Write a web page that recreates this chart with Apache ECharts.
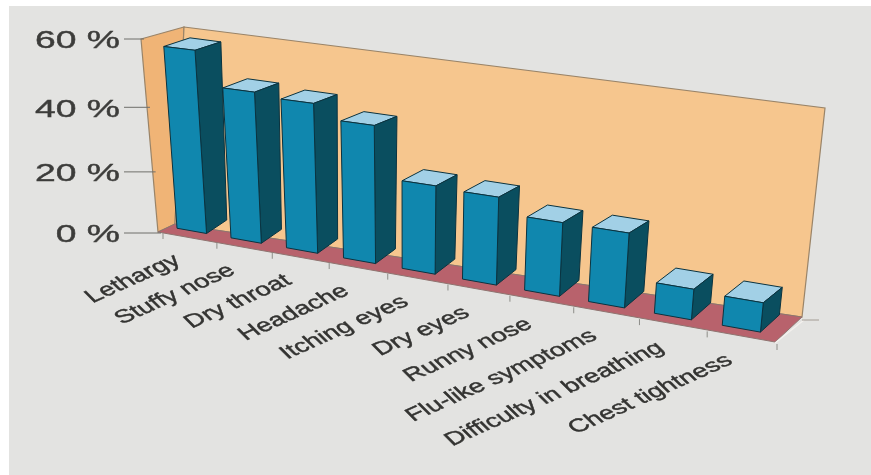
<!DOCTYPE html>
<html>
<head>
<meta charset="utf-8">
<style>html,body{margin:0;padding:0;background:#fff}#chart{width:871px;height:475px}</style>
<script src="https://cdn.jsdelivr.net/npm/echarts@6/dist/echarts.min.js"></script>
</head>
<body>
<div id="chart"></div>
<script>
const symptoms = ['Lethargy','Stuffy nose','Dry throat','Headache','Itching eyes','Dry eyes','Runny nose','Flu-like symptoms','Difficulty in breathing','Chest tightness'];
const percentages = [57, 47, 46, 42, 27, 26.5, 22, 22, 9, 8.5];
const percentTicks = [0, 20, 40, 60];

// Box of the 3D scene on screen: floor plane and the plane at the top of the value axis.
const FLOOR = {fl:[163,233], fr:[777,344], bl:[192,214], br:[804,319]};
const CEIL  = {fl:[146,39],  fr:[800,114], bl:[184,27],  br:[827,110]};
const BAR_DEPTH = [0.3, 1.0];
const BAR_SPAN = [-0.4, 0.15];   // bar extent around the band centre, in band widths
const FORESHORTEN_X = 0.866, FORESHORTEN_Y = 0.92;
const GRID = {left:163, top:39, width:612, height:195};

const lerp = (a,b,t) => [a[0]+(b[0]-a[0])*t, a[1]+(b[1]-a[1])*t];
const warp = (t,k) => k*t/(1+(k-1)*t);
function project(u,d,h){
  const uu = warp(u,FORESHORTEN_X), hh = warp(h,FORESHORTEN_Y);
  const plane = q => lerp(lerp(q.fl,q.fr,uu), lerp(q.bl,q.br,uu), d);
  return lerp(plane(FLOOR), plane(CEIL), hh);
}
// Pixel position on the cartesian grid -> normalised scene coordinates.
const toU = (x,cs) => (x-cs.x)/cs.width;
const toH = (y,cs) => (cs.y+cs.height-y)/cs.height;

const poly = (points,fill,stroke,lw) => ({type:'polygon',shape:{points},style:{fill,stroke:stroke||null,lineWidth:lw||0}});
const seg = (a,b,stroke,lw) => ({type:'line',shape:{x1:a[0],y1:a[1],x2:b[0],y2:b[1]},style:{stroke,lineWidth:lw||1}});

function renderFrame(params,api){
  const cs = params.coordSys, kids = [];
  // paper sheet
  kids.push({type:'rect',shape:{x:9,y:6,width:862,height:469},style:{fill:'#e3e3e1'}});
  // side wall, back wall, floor
  kids.push(poly([[141,39],[184,27],[175,224],[158,232]],'#f0b476','#9a8468',1.2));
  kids.push(poly([[184,27],[825,108],[802,317],[175,224]],'#f6c68e','#9a8468',1.2));
  kids.push(poly([[158,232],[175,224],[802,317],[775,342]],'#b8626c','#8f7470',1));
  kids.push(seg([775,343],[804,320],'#f4f1ee',1.2));
  kids.push(seg([802,320],[819,320],'#a39c94',1));
  // value axis ticks and labels
  percentTicks.forEach(v=>{
    const y = api.coord([0,v])[1];
    const h = toH(y,cs), wall = project(0,0,h);
    const edge = [wall[0]-2, wall[1]];
    kids.push(seg([124,edge[1]],edge,'#6f6f6b',1));
    kids.push({type:'group',x:120,y:edge[1]+3,scaleX:1.62,children:[
      {type:'text',style:{text:v+' %',align:'right',verticalAlign:'middle',fill:'#3c3c3a',stroke:'#3c3c3a',lineWidth:0.4,font:'23px "Liberation Sans"'}}
    ]});
  });
  return {type:'group',children:kids};
}

function renderBar(params,api){
  const cs = params.coordSys;
  const i = api.value(0), v = api.value(1);
  const c = api.coord([i,v]), base = api.coord([i,0]);
  const band = api.size([1,0])[0];
  const u0 = toU(c[0]+band*BAR_SPAN[0],cs), u1 = toU(c[0]+band*BAR_SPAN[1],cs);
  const h = toH(c[1],cs), h0 = toH(base[1],cs);
  const [df,db] = BAR_DEPTH;
  const fbl=project(u0,df,h0), fbr=project(u1,df,h0), bbr=project(u1,db,h0);
  const ftl=project(u0,df,h), ftr=project(u1,df,h), btr=project(u1,db,h), btl=project(u0,db,h);
  const edge='#0a3340';
  const kids=[
    poly([ftl,btl,btr,ftr],'#a2d0e6',edge,1),
    poly([ftr,btr,bbr,fbr],'#0a4e5f',edge,1),
    poly([ftl,ftr,fbr,fbl],'#1087ae',edge,1)
  ];
  // tick under the left boundary of the band, plus the closing one after the last band
  const tickAt = u => { const p=project(u,0,0); return seg([p[0],p[1]],[p[0],p[1]+6],'#8d8d88',1); };
  kids.push(tickAt(toU(c[0]-band/2,cs)));
  if(params.dataIndex===symptoms.length-1) kids.push(tickAt(toU(c[0]+band/2,cs)));
  // category label, sheared with the scene
  const a=project(toU(c[0],cs),0,0);
  kids.push({type:'group',x:a[0]-12,y:a[1]+21,scaleX:1.5,children:[
    {type:'text',rotation:34*Math.PI/180,style:{text:symptoms[i],align:'right',verticalAlign:'middle',fill:'#333331',stroke:'#333331',lineWidth:0.4,font:'18.5px "Liberation Sans"'}}
  ]});
  return {type:'group',children:kids};
}

const chart = echarts.init(document.getElementById('chart'),null,{renderer:'canvas'});
chart.setOption({
  animation:false,
  backgroundColor:'#ffffff',
  grid:GRID,
  xAxis:{type:'category',data:symptoms,show:false},
  yAxis:{type:'value',min:0,max:60,interval:20,show:false},
  series:[
    {type:'custom',coordinateSystem:'cartesian2d',clip:false,data:[[0,0]],renderItem:renderFrame,silent:true,z:1},
    {type:'custom',coordinateSystem:'cartesian2d',clip:false,data:percentages.map((v,i)=>[i,v]),renderItem:renderBar,silent:true,z:2}
  ]
});
</script>
</body>
</html>
